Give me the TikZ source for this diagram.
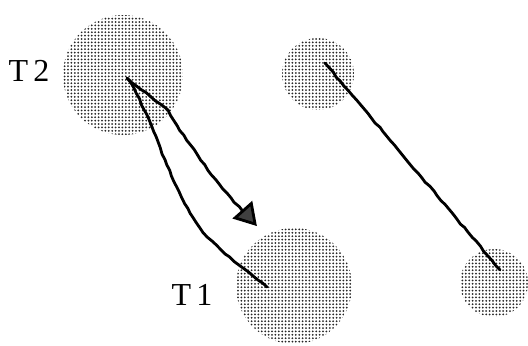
\documentclass[tikz,border=0pt]{standalone}
\usepackage{fontspec}
\setmainfont{Liberation Serif}
\usetikzlibrary{arrows.meta,patterns.meta,decorations.pathmorphing}

\begin{document}
\begin{tikzpicture}[x=0.5pt,y=-0.5pt,line width=1.4pt,
    spot/.style={circle,inner sep=0pt,pattern={Dots[radius=0.5pt,distance=1.7pt]},pattern color=black!85},
    wig/.style={decorate,decoration={random steps,segment length=3pt,amplitude=0.35pt},line join=round,line cap=round},
    lbl/.style={font=\fontsize{16}{18}\selectfont}]
\useasboundingbox (0,0) rectangle (528,345);
\node[spot,minimum size=60pt](t2)at(123,75){};
\node[spot,minimum size=58pt](t1)at(294,286){};
\node[spot,minimum size=36pt](p)at(318,74){};
\node[spot,minimum size=34pt](q)at(494,283){};
\node[lbl](l2)at(29,71){T\,2};
\node[lbl](l1)at(192,295){T\,1};
\coordinate(s)at(127,78);
\coordinate(k)at(168,110);
\coordinate(tip)at(257,226);
\coordinate(e)at(267,287);
\coordinate(pa)at(325,63);
\coordinate(qb)at(500,270);
\draw[wig,-{Triangle[length=11pt,width=13pt,fill=black!75]}] (s) -- (k) .. controls (185,140) and (222,192) .. (tip);
\draw[wig] (s) .. controls (145,100) and (165,170) .. (190,213) .. controls (205,240) and (235,262) .. (e);
\draw[wig] (pa) -- (qb);
\end{tikzpicture}
\end{document}
